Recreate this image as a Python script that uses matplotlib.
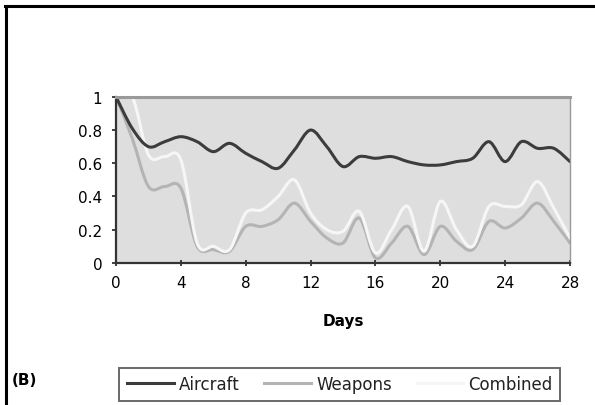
import matplotlib.pyplot as plt
from matplotlib.lines import Line2D
from matplotlib.path import Path
from matplotlib.patches import PathPatch

plt.rcParams['font.family'] = ['DejaVu Sans']

days = list(range(29))
aircraft = [1.00, 0.81, 0.70, 0.73, 0.76, 0.73, 0.67, 0.72, 0.66, 0.61, 0.57, 0.68,
            0.80, 0.70, 0.58, 0.64, 0.63, 0.64, 0.61, 0.59, 0.59, 0.61, 0.63, 0.73,
            0.61, 0.73, 0.69, 0.69, 0.61]
weapons = [1.00, 0.75, 0.46, 0.46, 0.45, 0.10, 0.08, 0.07, 0.22, 0.22, 0.26, 0.36,
           0.25, 0.15, 0.12, 0.27, 0.03, 0.12, 0.22, 0.05, 0.22, 0.13, 0.08, 0.25,
           0.21, 0.27, 0.36, 0.25, 0.12]
combined = [1.00, 1.00, 0.65, 0.64, 0.62, 0.12, 0.10, 0.08, 0.30, 0.32, 0.40, 0.50,
            0.30, 0.20, 0.19, 0.31, 0.06, 0.20, 0.34, 0.07, 0.37, 0.20, 0.10, 0.34,
            0.34, 0.35, 0.49, 0.33, 0.15]

series_names = ["Aircraft", "Weapons", "Combined"]
series_colors = ["#3c3c3c", "#b4b4b4", "#f6f6f6"]
x_ticks = [0, 4, 8, 12, 16, 20, 24, 28]
y_ticks = [0, 0.2, 0.4, 0.6, 0.8, 1]
y_labels = ["0", "0.2", "0.4", "0.6", "0.8", "1"]


def smooth_path(xs, ys):
    # spreadsheet-style smoothed line: cubic Bezier through every point
    n = len(xs)
    verts = [(xs[0], ys[0])]
    codes = [Path.MOVETO]
    for i in range(n - 1):
        x0, y0 = (xs[i - 1], ys[i - 1]) if i > 0 else (xs[i], ys[i])
        x1, y1 = xs[i], ys[i]
        x2, y2 = xs[i + 1], ys[i + 1]
        x3, y3 = (xs[i + 2], ys[i + 2]) if i + 2 < n else (x2, y2)
        verts += [(x1 + (x2 - x0) / 6, y1 + (y2 - y0) / 6),
                  (x2 - (x3 - x1) / 6, y2 - (y3 - y1) / 6),
                  (x2, y2)]
        codes += [Path.CURVE4] * 3
    return Path(verts, codes)


fig = plt.figure(figsize=(5.95, 4.06), dpi=100)
ax = fig.add_axes([0.195, 0.350, 0.763, 0.409])
ax.set_facecolor("#dedede")

for vals, color in zip([weapons, combined, aircraft],
                       [series_colors[1], series_colors[2], series_colors[0]]):
    ax.add_patch(PathPatch(smooth_path(days, vals), facecolor="none", edgecolor=color,
                           lw=2.2, joinstyle="round", capstyle="round"))

ax.set_xlim(0, 28)
ax.set_ylim(0, 1)
ax.set_xticks(x_ticks)
ax.set_yticks(y_ticks)
ax.set_yticklabels(y_labels)
ax.tick_params(axis="both", labelsize=11, color="#222222", length=3, width=1.2)
ax.tick_params(axis="x", direction="inout", length=5, pad=6)
ax.tick_params(axis="y", pad=7)

for side in ["left", "bottom"]:
    ax.spines[side].set_color("#333333")
    ax.spines[side].set_linewidth(1.6)
for side in ["top", "right"]:
    ax.spines[side].set_color("#9a9a9a")
ax.spines["top"].set_linewidth(2.2)
ax.spines["right"].set_linewidth(1.0)

ax.set_xlabel("Days", fontsize=11, fontweight="bold", labelpad=17)

fig.text(0.020, 0.064, "(B)", fontsize=11, fontweight="bold", va="center")

handles = [Line2D([], [], color=c, lw=2.2) for c in series_colors]
leg = fig.legend(handles, series_names, loc="center", bbox_to_anchor=(0.571, 0.051),
                 ncol=3, fontsize=12, frameon=True, fancybox=False, handlelength=2.8,
                 columnspacing=1.5, handletextpad=0.3, borderpad=0.45, borderaxespad=0,
                 labelcolor="#222222")
leg.get_frame().set_edgecolor("#444444")
leg.get_frame().set_linewidth(1.4)

# outer frame lines along the top and left edges
fig.add_artist(Line2D([0.009, 1.0], [0.982, 0.982], color="black", lw=2.2))
fig.add_artist(Line2D([0.010, 0.010], [0.0, 0.982], color="black", lw=2.2))

fig.savefig("out.png", dpi=100)
